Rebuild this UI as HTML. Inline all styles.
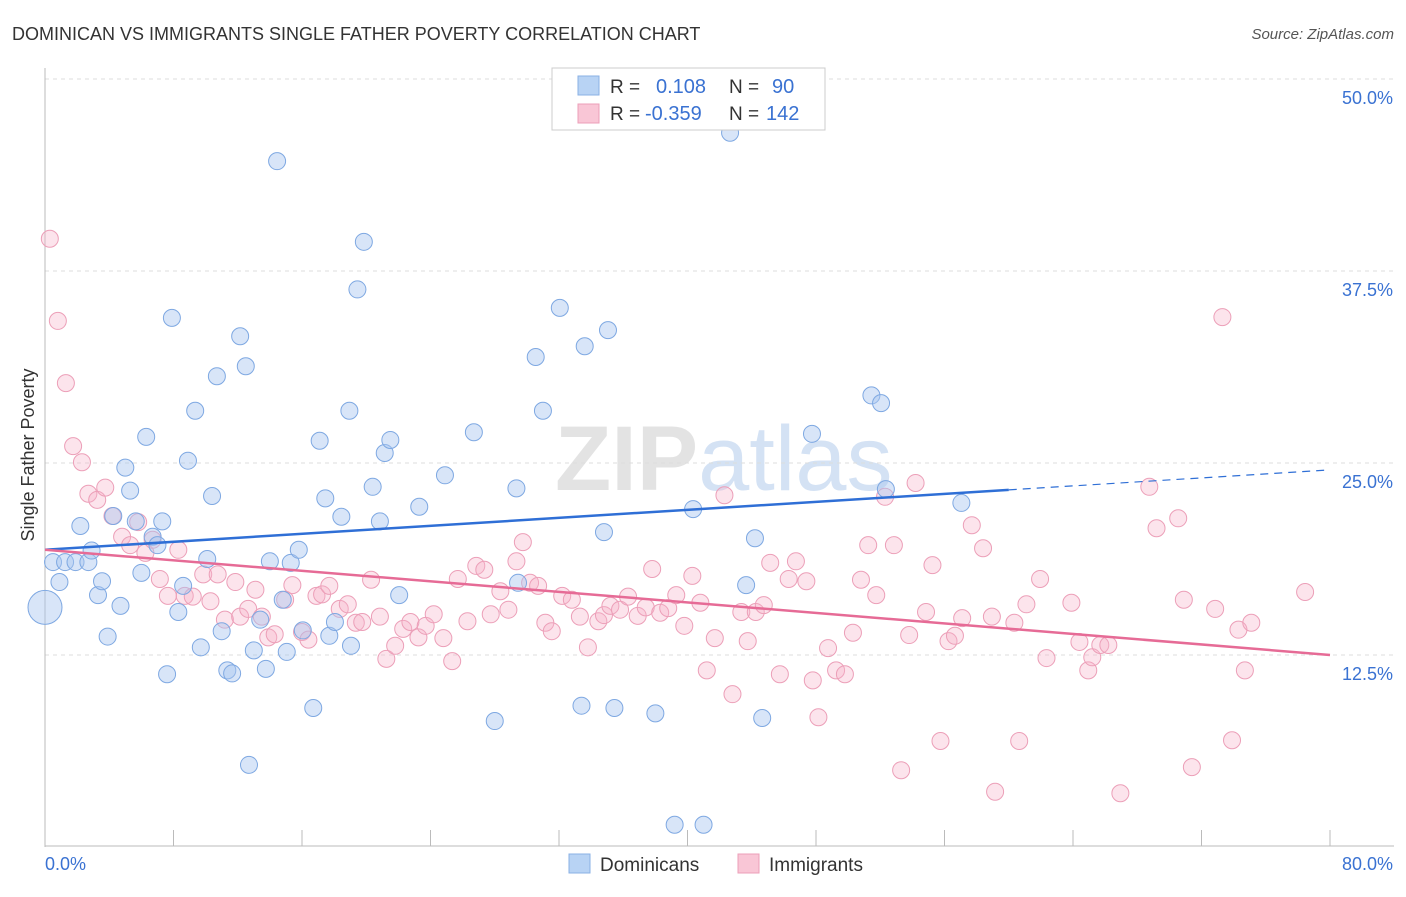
<!DOCTYPE html>
<html><head><meta charset="utf-8"><style>
body{margin:0;background:#fff;font-family:"Liberation Sans",sans-serif;}
svg text{font-family:"Liberation Sans",sans-serif;}
</style></head><body>
<svg id="chart" width="1406" height="892" xmlns="http://www.w3.org/2000/svg">
<text x="12" y="40" font-size="18" fill="#333">DOMINICAN VS IMMIGRANTS SINGLE FATHER POVERTY CORRELATION CHART</text>
<text x="1394" y="39" font-size="15" fill="#555" font-style="italic" text-anchor="end">Source: ZipAtlas.com</text>
<text x="555" y="490" font-size="92" fill="#e3e3e3" font-family="Liberation Serif" font-weight="bold">ZIP<tspan fill="#d4e2f4" font-family="Liberation Sans" font-weight="normal">atlas</tspan></text>
<g id="grid"></g><g id="axes"></g><g id="pts"></g><g id="trend"></g>
<text transform="translate(34,455) rotate(-90)" font-size="18" fill="#333" text-anchor="middle">Single Father Poverty</text>
<g>
<rect x="552" y="68" width="273" height="62" fill="#fff" stroke="#ccc"/>
<rect x="578" y="76" width="21" height="19" fill="#b8d3f4" stroke="#8ab0e4"/>
<rect x="578" y="104" width="21" height="19" fill="#f9c6d6" stroke="#ec9fb8"/>
<text x="610" y="93" font-size="19" fill="#333">R = </text><text x="656" y="93" font-size="20" fill="#3a72d2">0.108</text>
<text x="729" y="93" font-size="19" fill="#333">N = </text><text x="772" y="93" font-size="20" fill="#3a72d2">90</text>
<text x="610" y="120" font-size="19" fill="#333">R = </text><text x="645" y="120" font-size="20" fill="#3a72d2">-0.359</text>
<text x="729" y="120" font-size="19" fill="#333">N = </text><text x="766" y="120" font-size="20" fill="#3a72d2">142</text>
</g>
<g>
<rect x="569" y="854" width="21" height="19" fill="#b8d3f4" stroke="#8ab0e4"/>
<text x="600" y="871" font-size="19" fill="#333">Dominicans</text>
<rect x="738" y="854" width="21" height="19" fill="#f9c6d6" stroke="#ec9fb8"/>
<text x="769" y="871" font-size="19" fill="#333">Immigrants</text>
</g>
</svg>
<script>
const blueX=[0.5,0.9,1.25,1.9,2.7,2.9,2.2,3.3,3.55,3.9,4.25,4.7,5.0,5.3,5.65,6.0,6.3,6.7,7.0,7.3,7.6,7.9,8.3,8.6,8.9,9.35,10.1,9.7,10.4,10.7,11.0,11.35,11.65,12.15,12.5,12.7,13.0,13.4,13.75,14.0,14.45,14.8,15.05,15.3,15.8,16.05,16.7,17.1,17.45,17.7,18.05,18.45,18.95,19.05,19.45,19.85,20.4,20.85,21.15,21.5,22.05,23.3,24.9,26.7,28.0,29.35,29.45,30.55,31.0,32.05,33.4,33.6,34.8,35.05,35.45,38.0,39.2,40.35,41.0,42.65,43.65,44.2,44.65,47.75,51.45,52.05,52.35,57.05];
const blueY=[18.55,17.25,18.55,18.55,18.55,19.3,20.9,16.4,17.3,13.7,21.55,15.7,24.7,23.2,21.2,17.85,26.7,20.2,19.65,21.2,11.25,34.45,15.3,17.0,25.15,28.4,18.75,13.0,22.85,30.65,14.05,11.5,11.3,33.25,31.3,5.35,12.8,14.8,11.6,18.6,44.65,16.1,12.7,18.5,19.35,14.1,9.05,26.45,22.7,13.75,14.65,21.5,28.4,13.1,36.3,39.4,23.45,21.2,25.65,26.5,16.4,22.15,24.2,27.0,8.2,23.35,17.2,31.9,28.4,35.1,9.2,32.6,20.5,33.65,9.05,8.7,1.45,22.0,1.45,46.5,17.05,20.1,8.4,26.9,29.4,28.9,23.3,22.4];
const pinkX=[0.3,0.8,1.3,1.75,2.3,2.7,3.25,3.75,4.2,4.8,5.3,5.8,6.25,6.7,7.15,7.65,8.3,8.7,9.2,9.85,10.3,10.75,11.2,11.85,12.15,12.65,13.1,13.5,13.9,14.3,14.95,15.4,16.0,16.4,16.9,17.25,17.7,18.35,18.85,19.35,19.75,20.3,20.85,21.25,21.8,22.3,22.75,23.25,23.7,24.2,24.8,25.35,25.7,26.3,26.85,27.35,27.75,28.35,28.85,29.35,29.75,30.2,30.7,31.15,31.55,32.2,32.8,33.3,33.8,34.45,34.8,35.2,35.8,36.3,36.9,37.4,37.8,38.3,38.8,39.3,39.8,40.3,40.8,41.2,41.7,42.3,42.8,43.35,43.75,44.25,44.75,45.15,45.75,46.3,46.75,47.4,47.8,48.15,48.75,49.25,49.8,50.3,50.8,51.25,51.75,52.3,52.85,53.3,53.8,54.2,54.85,55.25,55.75,56.25,56.65,57.1,57.7,58.4,58.95,59.15,60.35,60.65,61.1,61.95,62.35,63.9,64.4,64.95,65.2,65.7,66.2,66.95,68.75,69.2,70.55,70.9,71.4,72.85,73.3,73.9,74.3,74.7,75.1,78.45];
const pinkY=[39.6,34.25,30.2,26.1,25.05,23.0,22.6,23.4,21.55,20.2,19.65,21.15,19.15,20.0,17.45,16.35,19.35,16.35,16.3,17.75,16.0,17.75,14.8,17.25,15.0,15.5,16.75,15.0,13.65,13.85,16.1,17.05,14.0,13.5,16.35,16.45,17.0,15.5,15.8,14.6,14.65,17.4,15.0,12.25,13.1,14.2,14.65,13.65,14.4,15.15,13.6,12.1,17.45,14.7,18.3,18.05,15.15,16.65,15.45,18.6,19.85,17.2,17.0,14.6,14.05,16.35,16.1,15.0,13.0,14.7,15.1,15.7,15.45,16.3,15.05,15.6,18.1,15.25,15.55,16.4,14.4,17.65,15.9,11.5,13.6,22.9,9.95,15.3,13.4,15.3,15.75,18.5,11.25,17.45,18.6,17.3,10.85,8.45,12.95,11.5,11.25,13.95,17.4,19.65,16.4,22.8,19.65,5.0,13.8,23.7,15.3,18.35,6.9,13.4,13.75,14.9,20.95,19.45,15.0,3.6,14.6,6.9,15.8,17.45,12.3,15.9,13.35,11.5,12.35,13.15,13.15,3.5,23.45,20.75,21.4,16.1,5.2,15.5,34.5,6.95,14.15,11.5,14.6,16.6];
const yTicks=[12.5,25.0,37.5,50.0];
const xTickVals=[0,8,16,24,32,40,48,56,64,72,80];
const blueTrend=[19.35,23.25,24.55]; // at x=0,60,80
const pinkTrend=[19.35,12.5]; // at x=0,80

const NS="http://www.w3.org/2000/svg";
const X=v=>45+v/80*1285;
const Y=v=>847-v/12.5*192;
function mk(tag,attrs,parent){const e=document.createElementNS(NS,tag);for(const k in attrs)e.setAttribute(k,attrs[k]);parent.appendChild(e);return e;}
const grid=document.getElementById('grid'),axes=document.getElementById('axes'),pts=document.getElementById('pts'),tr=document.getElementById('trend');
yTicks.forEach(t=>{
 const l=mk('line',{x1:45,x2:1394,y1:Y(t),y2:Y(t),stroke:'#ddd','stroke-dasharray':'4,4'},grid);
 
 
 const tx=mk('text',{x:1393,y:Y(t)+25,'font-size':18,fill:'#3a72d2','text-anchor':'end'},axes);
 tx.textContent=t.toFixed(1)+'%';
 
 
});
const ya=mk('line',{x1:45,x2:45,y1:68,y2:847,stroke:'#bbb'},axes);


const xa=mk('line',{x1:45,x2:1394,y1:846,y2:846,stroke:'#bbb'},axes);


xTickVals.forEach(t=>{
 const l=mk('line',{x1:X(t),x2:X(t),y1:830,y2:846,stroke:'#bbb'},axes);
 
 
});
[[0,'0.0%','start',45],[80,'80.0%','end',1393]].forEach(a=>{
 const tx=mk('text',{x:a[3],y:870,'font-size':18,fill:'#3a72d2','text-anchor':a[2]},axes);
 tx.textContent=a[1];
 
 
});
pinkX.forEach((v,i)=>{
 const c=mk('circle',{cx:X(v),cy:Y(pinkY[i]),r:8.5,fill:'rgba(246,178,200,0.35)',stroke:'#ec9fb8','stroke-width':1},pts);
 
 
});
blueX.forEach((v,i)=>{
 const c=mk('circle',{cx:X(v),cy:Y(blueY[i]),r:8.5,fill:'rgba(168,198,240,0.45)',stroke:'#7ea8e2','stroke-width':1},pts);
 
 
});
const big=mk('circle',{cx:X(0),cy:Y(15.6),r:17,fill:'rgba(168,198,240,0.45)',stroke:'#7ea8e2'},pts);


const bl=mk('line',{x1:X(0),y1:Y(blueTrend[0]),x2:X(60),y2:Y(blueTrend[1]),stroke:'#2f6fd6','stroke-width':2.5},tr);


const bd=mk('line',{x1:X(60),y1:Y(blueTrend[1]),x2:X(80),y2:Y(blueTrend[2]),stroke:'#2f6fd6','stroke-width':1.2,'stroke-dasharray':'8,6'},tr);


const pl=mk('line',{x1:X(0),y1:Y(pinkTrend[0]),x2:X(80),y2:Y(pinkTrend[1]),stroke:'#e66b96','stroke-width':2.5},tr);


</script>
</body></html>
